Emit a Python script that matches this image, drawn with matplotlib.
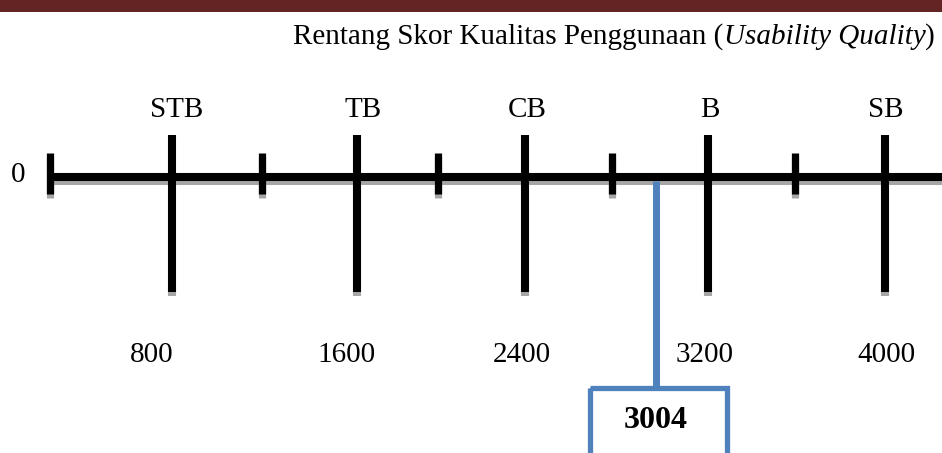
import numpy as np
import matplotlib
matplotlib.use("Agg")
import matplotlib.pyplot as plt
from matplotlib.patches import Rectangle

# ---- data ----
categories = ["STB", "TB", "CB", "B", "SB"]
major_scores = [800, 1600, 2400, 3200, 4000]
minor_scores = [0, 1200, 2000, 2800, 3600]
result_score = 3004
title_main = "Rentang Skor Kualitas Penggunaan ("
title_italic = "Usability Quality"
title_end = ")"

# drawn (non-uniform) scale of the diagram: score -> horizontal position
anchor_scores = [0, 800, 1200, 1600, 2000, 2400, 2800, 3200, 3600, 4000, 4300]
anchor_pos = [50, 172, 262, 357, 438, 525, 612, 708, 795, 885, 942]

def xpos(s):
    return float(np.interp(s, anchor_scores, anchor_pos))

W, H = 942, 453
fig = plt.figure(figsize=(W / 100, H / 100), dpi=100)
ax = fig.add_axes([0, 0, 1, 1])
ax.set_xlim(0, W)
ax.set_ylim(H, 0)
ax.axis("off")

SERIF = ["Liberation Serif", "DejaVu Serif"]
FS = 21
black = "#000000"
shadow = "#a6a6a6"
blue = "#4f81bd"
line_y = 177
sh = 4  # shadow offset

# header bar
ax.add_patch(Rectangle((0, 0), W, 12, color="#632523", lw=0, zorder=5))

# main axis line (shadow + black)
x0 = xpos(0) - 3
ax.plot([x0, W + 5], [line_y + sh, line_y + sh], color=shadow, lw=5.8, solid_capstyle="butt", zorder=1)
ax.plot([x0, W + 5], [line_y, line_y], color=black, lw=5.8, solid_capstyle="butt", zorder=2)

# minor ticks
for s in minor_scores:
    x = xpos(s)
    ax.plot([x, x], [153 + sh, 194 + sh], color=shadow, lw=5.2, solid_capstyle="butt", zorder=1)
    ax.plot([x, x], [153, 194], color=black, lw=5.2, solid_capstyle="butt", zorder=3)

# major ticks with category labels above and score labels below
cat_offsets = [5, 6, 2, 2, 1]
num_offsets = [-20, -11, -3, -3, 1]
for cat, s, co, no in zip(categories, major_scores, cat_offsets, num_offsets):
    x = xpos(s)
    ax.plot([x, x], [135 + sh, 292 + sh], color=shadow, lw=5.8, solid_capstyle="butt", zorder=1)
    ax.plot([x, x], [135, 292], color=black, lw=5.8, solid_capstyle="butt", zorder=3)
    ax.text(x + co, 110, cat, ha="center", va="center",
            fontsize=FS, family=SERIF, color=black)
    ax.text(x + no, 355, f"{s}", ha="center", va="center",
            fontsize=FS, family=SERIF, color=black)

# zero label
ax.text(18, 175, "0", ha="center", va="center", fontsize=FS, family=SERIF, color=black)

# result marker
xr = xpos(result_score) - 5
ax.plot([xr, xr], [181, 388], color=blue, lw=5, solid_capstyle="butt", zorder=4)
ax.add_patch(Rectangle((590, 388), 137, 90, fill=False, edgecolor=blue, lw=3.8, zorder=4))
ax.text(xr, 420, f"{result_score}", ha="center", va="center", fontsize=FS + 2,
        family=SERIF, weight="bold", color=black, zorder=5)

# title with italic part, right-aligned at x=935
fig.canvas.draw()
r = fig.canvas.get_renderer()
inv = ax.transData.inverted()
right = 935
ty = 37
t3 = ax.text(right, ty, title_end, ha="right", va="center", fontsize=FS, family=SERIF)
bb = t3.get_window_extent(r)
xl = inv.transform((bb.x0, bb.y0))[0]
t2 = ax.text(xl, ty, title_italic, ha="right", va="center", fontsize=FS, family=SERIF, style="italic")
bb = t2.get_window_extent(r)
xl = inv.transform((bb.x0, bb.y0))[0]
t1 = ax.text(xl, ty, title_main, ha="right", va="center", fontsize=FS, family=SERIF)

fig.savefig("out.png", dpi=100)
